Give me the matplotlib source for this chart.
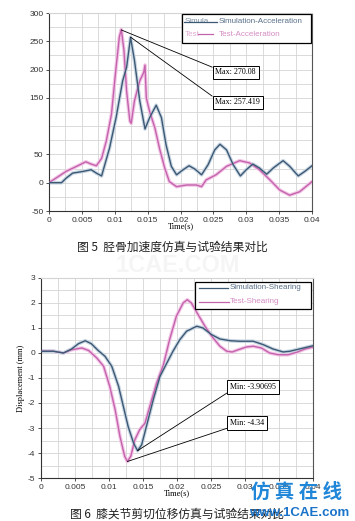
"""
Tibia acceleration and knee shearing displacement: simulation vs test (Fig. 5 / Fig. 6).
"""

import matplotlib

matplotlib.use("Agg")
import matplotlib.pyplot as plt
from matplotlib.patches import Rectangle

plt.rcParams["font.family"] = ["Liberation Sans", "DejaVu Sans"]

SIM_COLOR = "#3b5874"
TEST_COLOR = "#c463ad"
TEST_GLOW = "#f3c6e6"
SIM_GLOW = "#c9d6e2"
GRID_COLOR = "#d4d4d4"

# ---- Fig. 5: tibia acceleration ----
acc_sim_t = [0, 0.0019, 0.0026, 0.0036, 0.0052, 0.0064, 0.0072, 0.008, 0.0092, 0.0102,
             0.0112, 0.0118, 0.0124, 0.013, 0.0138, 0.0146, 0.0153, 0.0163, 0.0171,
             0.0178, 0.0186, 0.0194, 0.0204, 0.0213, 0.0222, 0.0232, 0.0242, 0.0252,
             0.026, 0.027, 0.028, 0.0291, 0.03, 0.031, 0.032, 0.0331, 0.0341, 0.0356,
             0.0366, 0.0379, 0.0389, 0.04]
acc_sim = [0, 0, 8, 17, 20, 23, 17, 12, 61, 115, 180, 204, 257, 216, 145, 95, 115, 137, 115,
           67, 29, 14, 23, 30, 24, 14, 32, 58, 68, 58, 32, 12, 23, 33, 26, 15, 26, 39, 29, 12,
           20, 30]

acc_test_t = [0, 0.0026, 0.0042, 0.0056, 0.0064, 0.0072, 0.008, 0.0087, 0.0095, 0.0102,
              0.0107, 0.011, 0.0114, 0.0118, 0.0123, 0.0125, 0.013, 0.0138, 0.0144, 0.0146,
              0.0148, 0.0153, 0.0161, 0.0168, 0.0176, 0.0183, 0.0194, 0.0209, 0.0224,
              0.0232, 0.0239, 0.0254, 0.027, 0.029, 0.0305, 0.032, 0.0336, 0.0351, 0.0366,
              0.0381, 0.04]
acc_test = [0, 20, 29, 37, 33, 30, 43, 73, 121, 204, 258, 271, 234, 162, 109, 105, 145, 180,
            195, 208, 150, 126, 97, 61, 26, 2, -7, -4, -4, -7, 5, 14, 29, 39, 35, 23, 5, -13,
            -22, -16, 2]

acc_xticks = [0, 0.005, 0.01, 0.015, 0.02, 0.025, 0.03, 0.035, 0.04]
acc_xlabels = ["0", "0.005", "0.01", "0.015", "0.02", "0.025", "0.03", "0.035", "0.04"]
acc_yticks = [300, 250, 200, 150, 50, 0, -50]

acc_labels = ["Simulation-Acceleration", "Test-Acceleration"]
acc_notes = ["Max: 270.08", "Max: 257.419"]
acc_peaks = [(0.011, 270.08), (0.0124, 257.419)]

# ---- Fig. 6: knee shearing displacement ----
shear_sim_t = [0, 0.0018, 0.0033, 0.0045, 0.0055, 0.0065, 0.0074, 0.0084, 0.0094, 0.0104,
               0.0114, 0.0121, 0.0128, 0.0136, 0.0142, 0.0148, 0.0155, 0.0165, 0.0175,
               0.0185, 0.0194, 0.0204, 0.0214, 0.0229, 0.0238, 0.0251, 0.0263, 0.0278,
               0.0292, 0.0312, 0.0327, 0.0341, 0.0356, 0.0366, 0.038, 0.04]
shear_sim = [0.07, 0.07, 0.0, 0.16, 0.37, 0.49, 0.37, 0.1, -0.13, -0.53, -1.33, -2.13, -2.93,
             -3.6, -3.91, -3.67, -2.93, -1.87, -0.93, -0.4, 0.07, 0.53, 0.87, 1.07, 1.0, 0.73,
             0.56, 0.49, 0.47, 0.47, 0.33, 0.16, 0.04, 0.07, 0.16, 0.29]

shear_test_t = [0, 0.0018, 0.0033, 0.0045, 0.006, 0.007, 0.0082, 0.0092, 0.0101, 0.0109,
                0.0116, 0.0123, 0.0127, 0.0132, 0.0138, 0.0145, 0.0153, 0.016, 0.017, 0.018,
                0.0189, 0.0199, 0.0209, 0.0215, 0.0221, 0.0231, 0.0241, 0.0251, 0.0263,
                0.0273, 0.0281, 0.029, 0.0302, 0.0312, 0.0324, 0.0336, 0.0349, 0.0363, 0.0376,
                0.0388, 0.04]
shear_test = [0.07, 0.07, 0.0, 0.13, 0.2, 0.1, -0.2, -0.53, -1.33, -2.27, -3.33, -4.13, -4.34,
              -4.13, -3.47, -3.07, -2.8, -2.13, -1.2, -0.47, 0.53, 1.47, 2.0, 2.13, 2.0, 1.53,
              1.07, 0.67, 0.27, 0.07, 0.04, 0.13, 0.24, 0.27, 0.2, 0.0, -0.07, -0.07, 0.03,
              0.16, 0.24]

shear_yticks = [3, 2, 1, 0, -1, -2, -3, -4, -5]
shear_labels = ["Simulation-Shearing", "Test-Shearing"]
shear_notes = ["Min: -3.90695", "Min: -4.34"]
shear_mins = [(0.0142, -3.90695), (0.0127, -4.34)]


def style_axes(ax, xlim, ylim, ystep, yticks, ylabels):
    ax.set_xlim(*xlim)
    ax.set_ylim(*ylim)
    for x in [i * 0.0025 for i in range(1, 16)]:
        ax.axvline(x, color=GRID_COLOR, lw=0.6, zorder=0)
    y = ylim[0] + ystep
    while y < ylim[1] + 1e-9:
        ax.axhline(y, color=GRID_COLOR, lw=0.6, zorder=0)
        y += ystep
    ax.set_xticks(acc_xticks)
    ax.set_xticklabels(acc_xlabels)
    ax.set_yticks(yticks)
    ax.set_yticklabels(ylabels)
    ax.tick_params(labelsize=6, colors="#333333", length=2.5, width=0.6, pad=1.5)
    for side in ("left", "bottom"):
        ax.spines[side].set_color("#333333")
        ax.spines[side].set_linewidth(0.8)
    ax.spines["top"].set_color(GRID_COLOR)
    ax.spines["right"].set_color("#555555")
    ax.spines["right"].set_linewidth(0.8)


def draw_series(ax, t, v, color, glow):
    ax.plot(t, v, color=glow, lw=2.6, solid_capstyle="round", zorder=2)
    ax.plot(t, v, color=color, lw=1.0, zorder=3)


def note(ax, xy, text, xytext, va):
    ax.annotate(text, xy=xy, xytext=xytext, textcoords="data", ha="left", va=va,
                fontsize=5.8, family=["Liberation Serif", "DejaVu Serif"],
                bbox=dict(boxstyle="square,pad=0.35", fc="white", ec="black", lw=0.7),
                arrowprops=dict(arrowstyle="-", color="black", lw=0.6,
                                shrinkA=0, shrinkB=0, relpos=(0, 1 if va == "top" else 0)),
                zorder=6)


def legend_box(ax, box, rows):
    x0, y0, x1, y1 = box
    ax.add_patch(Rectangle((x0, y0), x1 - x0, y1 - y0, transform=ax.transAxes,
                           fc="white", ec="black", lw=0.9, zorder=7))
    for (y, pre, h0, h1, lx, label, col) in rows:
        if pre:
            ax.text(x0 + 0.01, y, pre, transform=ax.transAxes, fontsize=5.8,
                    color="#7d8fa3" if col == SIM_COLOR else "#e0aad2", va="center", zorder=8)
        ax.plot([h0, h1], [y, y], transform=ax.transAxes, color=col, lw=0.9, zorder=9)
        ax.text(lx, y, label, transform=ax.transAxes, fontsize=5.8,
                color="#5a7088" if col == SIM_COLOR else "#d48cc4", va="center", zorder=8)


fig = plt.figure(figsize=(3.55, 5.21), dpi=100)

# Fig. 5
ax1 = fig.add_axes([0.138, 0.595, 0.741, 0.380])
style_axes(ax1, (0, 0.04), (-50, 300), 25, acc_yticks, [str(v) for v in acc_yticks])
draw_series(ax1, acc_test_t, acc_test, TEST_COLOR, TEST_GLOW)
draw_series(ax1, acc_sim_t, acc_sim, SIM_COLOR, SIM_GLOW)
note(ax1, acc_peaks[0], acc_notes[0], (0.0253, 202), "top")
note(ax1, acc_peaks[1], acc_notes[1], (0.0253, 149), "top")
legend_box(ax1, (0.506, 0.848, 0.996, 0.995), [
    (0.955, "Simula", 0.515, 0.639, 0.645, acc_labels[0], SIM_COLOR),
    (0.894, "Test", 0.567, 0.624, 0.645, acc_labels[1], TEST_COLOR),
])
ax1.set_xlabel("Time(s)", fontsize=6, family=["Liberation Serif"], labelpad=-1)

# Fig. 6
ax2 = fig.add_axes([0.1155, 0.0825, 0.7665, 0.384])
style_axes(ax2, (0, 0.04), (-5, 3), 0.5, shear_yticks, [str(v) for v in shear_yticks])
draw_series(ax2, shear_test_t, shear_test, TEST_COLOR, TEST_GLOW)
draw_series(ax2, shear_sim_t, shear_sim, SIM_COLOR, SIM_GLOW)
note(ax2, shear_mins[0], shear_notes[0], (0.0278, -1.52), "bottom")
note(ax2, shear_mins[1], shear_notes[1], (0.0278, -2.97), "bottom")
legend_box(ax2, (0.566, 0.845, 0.993, 0.98), [
    (0.95, None, 0.581, 0.688, 0.695, shear_labels[0], SIM_COLOR),
    (0.88, None, 0.581, 0.692, 0.695, shear_labels[1], TEST_COLOR),
])
ax2.set_xlabel("Time(s)", fontsize=6, family=["Liberation Serif"], labelpad=-1)
ax2.set_ylabel("Displacement (mm)", fontsize=6, family=["Liberation Serif"], labelpad=2)

# captions and watermarks
cjk = ["Noto Sans CJK SC", "DejaVu Sans"]
fig.text(0.5, 1 - 266 / 521, "1CAE.COM", ha="center", va="center", fontsize=17,
         fontweight="bold", color="#f5f5f5", zorder=0)
fig.text(0.485, 1 - 247 / 521, "图 5  胫骨加速度仿真与试验结果对比", ha="center", va="center",
         fontsize=8.5, family=cjk, color="#222222", zorder=2)
fig.text(0.5, 1 - 514 / 521, "图 6  膝关节剪切位移仿真与试验结果对比", ha="center", va="center",
         fontsize=8.5, family=cjk, color="#222222")
fig.text(0.965, 1 - 492 / 521, "仿 真 在 线", ha="right", va="center", fontsize=14,
         family=cjk, fontweight="bold", color="#1f86d8", zorder=10)
fig.text(0.985, 1 - 513 / 521, "www.1CAE.com", ha="right", va="center", fontsize=9.5,
         fontweight="bold", color="#1a73c8", zorder=10)

fig.savefig("out.png", dpi=100)
